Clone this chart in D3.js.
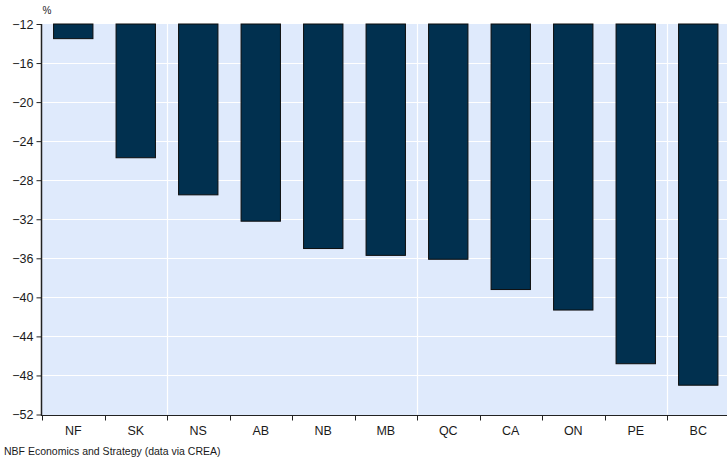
<!DOCTYPE html>
<html>
<head>
<meta charset="utf-8">
<script src="https://cdn.jsdelivr.net/npm/d3@7"></script>
<style>
  html, body { margin: 0; padding: 0; background: #ffffff; }
  svg { display: block; }
  text { font-family: "Liberation Sans", Arial, sans-serif; fill: #1a1a1a; }
</style>
</head>
<body>
<svg id="chart" width="727" height="462"></svg>
<script>
// Provinces (and Canada) ordered from smallest to largest decline
const categories = ["NF", "SK", "NS", "AB", "NB", "MB", "QC", "CA", "ON", "PE", "BC"];
const values = [-13.5, -25.7, -29.5, -32.2, -35.0, -35.7, -36.1, -39.2, -41.3, -46.8, -49.0];
const yTicks = [-12, -16, -20, -24, -28, -32, -36, -40, -44, -48, -52];

const svg = d3.select("#chart");
const plot = { left: 42, right: 729.5, top: 24, bottom: 414.5 };

const x = d3.scaleBand()
  .domain(categories)
  .range([plot.left, plot.right])
  .paddingInner(0.37)
  .paddingOuter(0.185);

const y = d3.scaleLinear()
  .domain([-12, -52])
  .range([plot.top, plot.bottom]);

// plot background
svg.append("rect")
  .attr("x", plot.left).attr("y", plot.top)
  .attr("width", plot.right - plot.left)
  .attr("height", plot.bottom - plot.top + 1)
  .attr("fill", "#dfeafc");

// horizontal gridlines
svg.append("g").selectAll("line")
  .data(yTicks.slice(1, -1))
  .join("line")
  .attr("x1", plot.left).attr("x2", plot.right)
  .attr("y1", d => Math.round(y(d)) + 0.5).attr("y2", d => Math.round(y(d)) + 0.5)
  .attr("stroke", "#ffffff").attr("stroke-width", 1.2);

// vertical gridlines every fourth category boundary
const step = x.step();
const boundary = i => plot.left + i * step;
svg.append("g").selectAll("line")
  .data([2, 6, 10])
  .join("line")
  .attr("x1", d => Math.round(boundary(d)) + 0.5).attr("x2", d => Math.round(boundary(d)) + 0.5)
  .attr("y1", plot.top).attr("y2", plot.bottom)
  .attr("stroke", "#ffffff").attr("stroke-width", 1.2);

// bars hang from the top of the scale
svg.append("g").selectAll("rect")
  .data(categories.map((c, i) => ({ c, v: values[i] })))
  .join("rect")
  .attr("x", d => x(d.c))
  .attr("y", y(-12))
  .attr("width", x.bandwidth())
  .attr("height", d => y(d.v) - y(-12))
  .attr("fill", "#01304f")
  .attr("stroke", "#0d0d0d")
  .attr("stroke-width", 1);

// y axis
const yAxis = d3.axisLeft(y).tickValues(yTicks).tickSize(5).tickPadding(3).tickFormat(d3.format("d"));
const gy = svg.append("g")
  .attr("transform", `translate(${plot.left - 0.5},0)`)
  .call(yAxis);
gy.select(".domain").attr("stroke", "#222").attr("stroke-width", 1.5)
  .attr("d", `M0,${plot.top}V${plot.bottom + 1}`);
gy.selectAll(".tick line").attr("stroke", "#222");
gy.selectAll(".tick text").attr("font-size", 12.5).style("fill", "#1a1a1a")
  .attr("font-family", "Liberation Sans, Arial, sans-serif");

// x axis with ticks at category boundaries
const gx = svg.append("g")
  .attr("transform", `translate(0,${plot.bottom + 1})`);
gx.append("line")
  .attr("x1", plot.left - 1).attr("x2", plot.right)
  .attr("y1", 0).attr("y2", 0)
  .attr("stroke", "#222").attr("stroke-width", 1.2);
gx.selectAll("line.tk")
  .data(d3.range(0, categories.length + 1))
  .join("line").attr("class", "tk")
  .attr("x1", d => Math.round(boundary(d)) + 0.5).attr("x2", d => Math.round(boundary(d)) + 0.5)
  .attr("y1", 0).attr("y2", 5)
  .attr("stroke", "#222");
gx.selectAll("text")
  .data(categories)
  .join("text")
  .attr("x", d => x(d) + x.bandwidth() / 2)
  .attr("y", 19.5)
  .attr("text-anchor", "middle")
  .attr("font-size", 12.5)
  .text(d => d);

// unit label
svg.append("text")
  .attr("x", 47).attr("y", 14)
  .attr("text-anchor", "middle")
  .attr("font-size", 10)
  .text("%");

// source note
svg.append("text")
  .attr("x", 4).attr("y", 455)
  .attr("font-size", 10.5)
  .text("NBF Economics and Strategy (data via CREA)");
</script>
</body>
</html>
